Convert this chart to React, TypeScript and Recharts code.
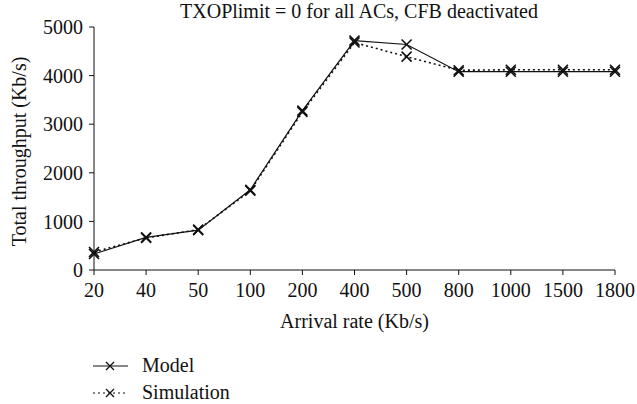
import { LineChart, Line, XAxis, YAxis } from 'recharts';

const rates = ['20', '40', '50', '100', '200', '400', '500', '800', '1000', '1500', '1800'];
const model = [330, 670, 820, 1650, 3280, 4720, 4640, 4080, 4080, 4080, 4080];
const simulation = [370, 660, 830, 1630, 3250, 4680, 4390, 4110, 4120, 4120, 4120];
const yTicks = [0, 1000, 2000, 3000, 4000, 5000];

const data = rates.map((rate, i) => ({ rate, model: model[i], simulation: simulation[i] }));

const FONT = "'Liberation Serif', 'Times New Roman', serif";
const INK = '#111';
const FS = 20;

// small "x" marker used on both series
const Cross = (props: any) => {
  const { cx, cy } = props;
  if (cx == null || cy == null) return null;
  const r = 5;
  return (
    <path
      d={`M${cx - r},${cy - r}L${cx + r},${cy + r}M${cx - r},${cy + r}L${cx + r},${cy - r}`}
      stroke={INK}
      strokeWidth={1.6}
      fill="none"
    />
  );
};

const LegendBox = () => (
  <div style={{ fontFamily: FONT, fontSize: FS, color: INK, lineHeight: '27px' }}>
    {[
      { name: 'Model', dash: undefined },
      { name: 'Simulation', dash: '2 3' },
    ].map((it) => (
      <div key={it.name} style={{ display: 'flex', alignItems: 'center' }}>
        <svg width={50} height={14} style={{ marginRight: 2 }}>
          <line x1={3} y1={7} x2={38} y2={7} stroke={INK} strokeWidth={1.2} strokeDasharray={it.dash} />
          <path d="M16,3L24,11M16,11L24,3" stroke={INK} strokeWidth={1.3} />
        </svg>
        <span>{it.name}</span>
      </div>
    ))}
  </div>
);

export default function App() {
  return (
    <div style={{ position: 'absolute', left: 0, top: 0, width: 637, height: 404, background: '#fff' }}>
      <div
        style={{
          position: 'absolute',
          left: 94,
          width: 530,
          top: 0,
          textAlign: 'center',
          fontFamily: FONT,
          fontSize: FS,
          color: INK,
        }}
      >
        TXOPlimit = 0 for all ACs, CFB deactivated
      </div>
      <LineChart width={637} height={404} data={data} margin={{ top: 27, right: 22, left: 34, bottom: 104 }}>
        <XAxis
          dataKey="rate"
          type="category"
          stroke={INK}
          tickSize={5}
          tickMargin={8}
          interval={0}
          tick={{ fill: INK, fontFamily: FONT, fontSize: FS }}
          height={30}
          label={{
            value: 'Arrival rate (Kb/s)',
            position: 'bottom',
            offset: 14,
            style: { fill: INK, fontFamily: FONT, fontSize: FS },
          }}
        />
        <YAxis
          type="number"
          domain={[0, 5000]}
          ticks={yTicks}
          stroke={INK}
          tickSize={5}
          tickMargin={6}
          width={60}
          tick={{ fill: INK, fontFamily: FONT, fontSize: FS }}
          label={{
            value: 'Total throughput (Kb/s)',
            angle: -90,
            position: 'insideLeft',
            offset: -15,
            dy: 3,
            style: { fill: INK, fontFamily: FONT, fontSize: FS, textAnchor: 'middle' },
          }}
        />
        <Line
          dataKey="model"
          name="Model"
          stroke={INK}
          strokeWidth={1.2}
          dot={<Cross />}
          type="linear"
          isAnimationActive={false}
        />
        <Line
          dataKey="simulation"
          name="Simulation"
          stroke={INK}
          strokeWidth={1.6}
          strokeDasharray="2 3"
          dot={<Cross />}
          type="linear"
          isAnimationActive={false}
        />
      </LineChart>
      <div style={{ position: 'absolute', left: 90, top: 352 }}>
        <LegendBox />
      </div>
    </div>
  );
}
